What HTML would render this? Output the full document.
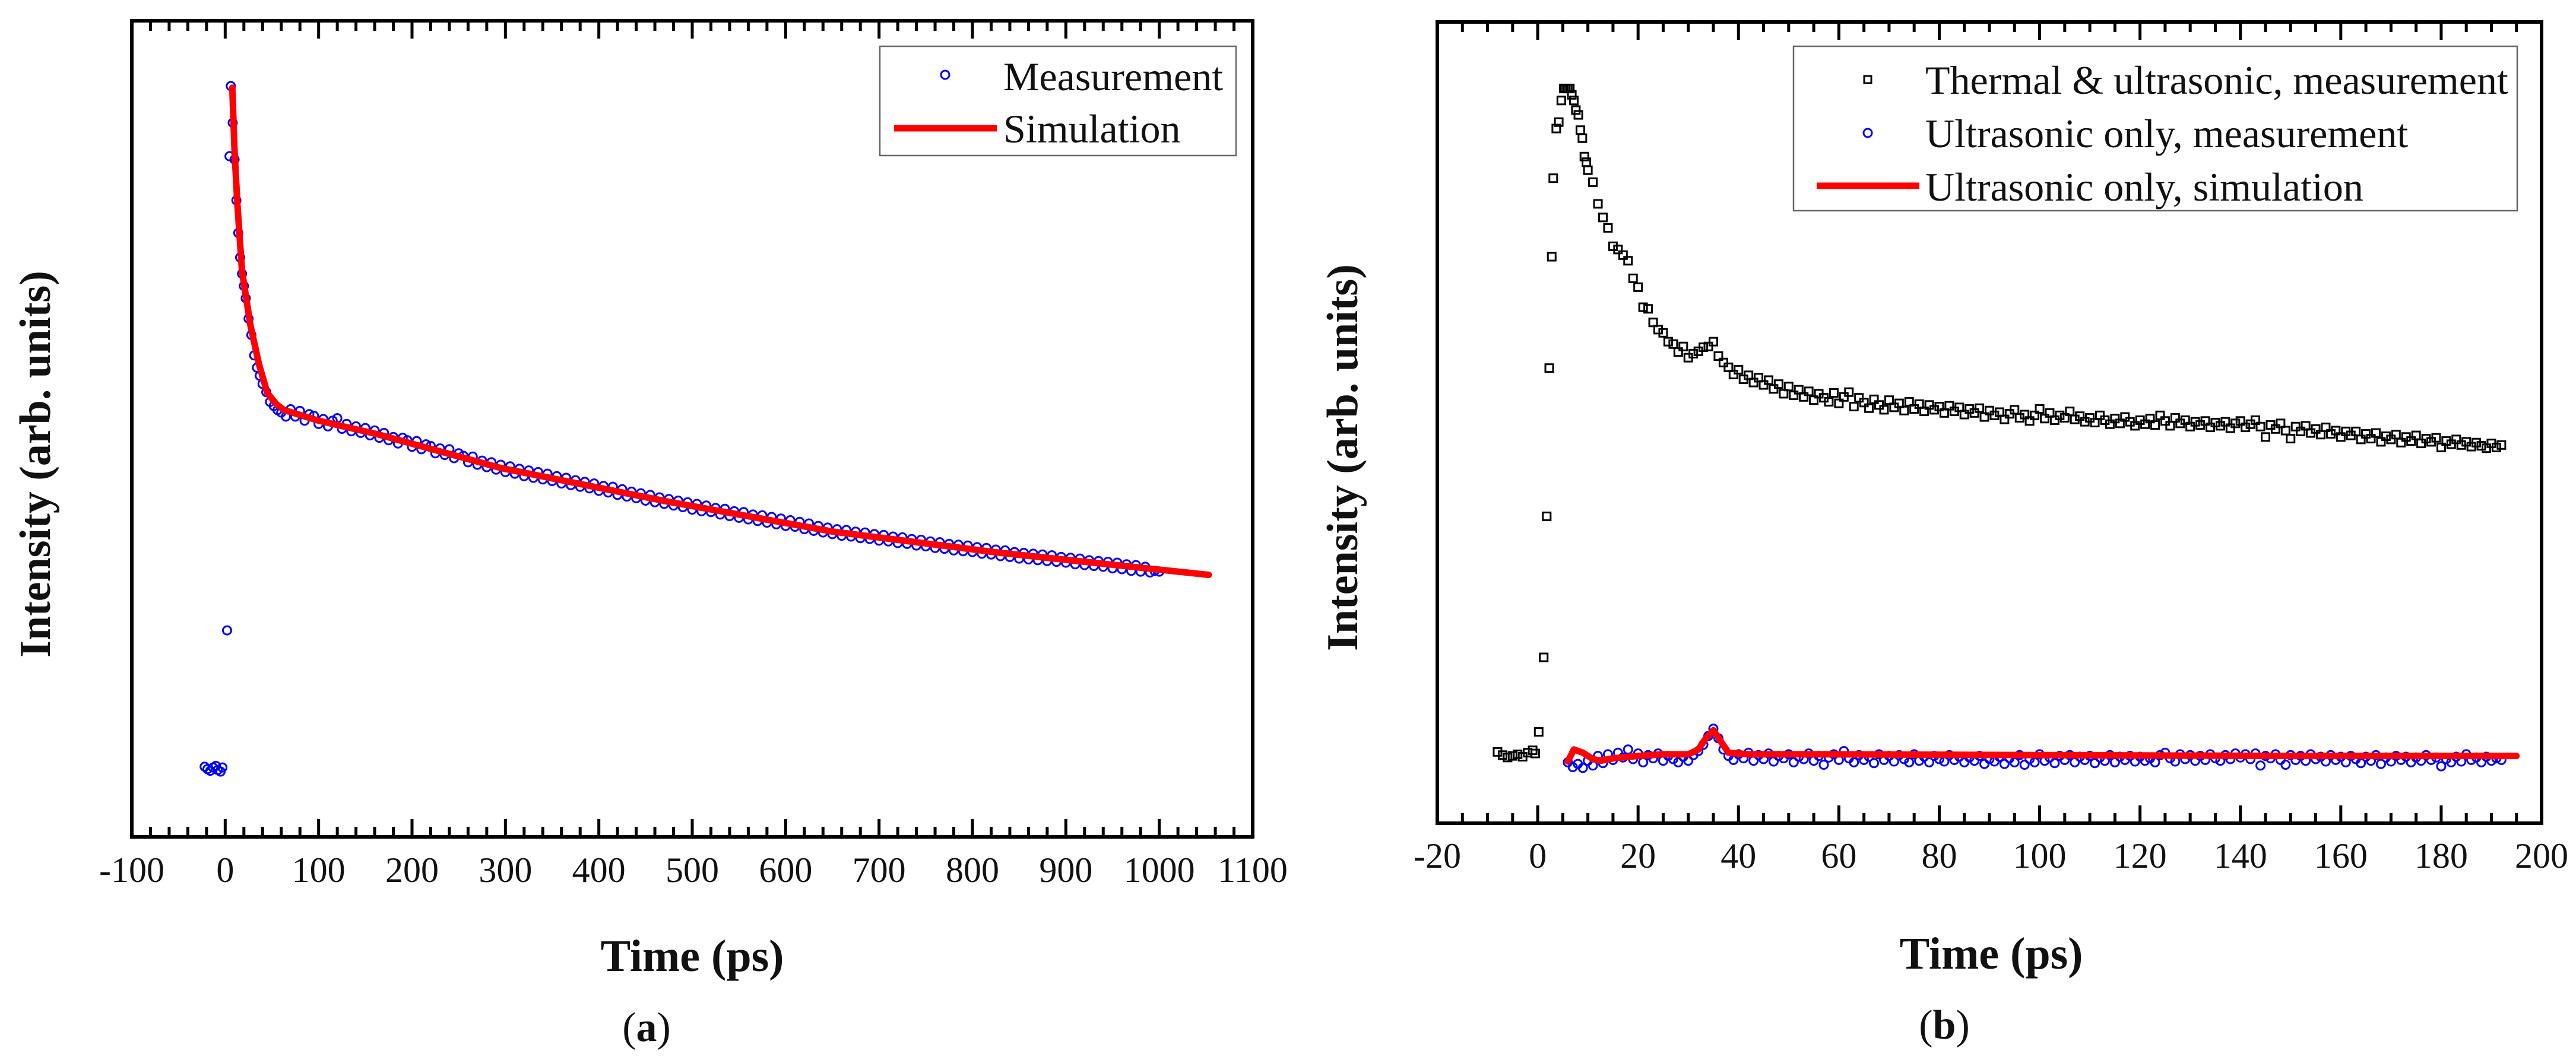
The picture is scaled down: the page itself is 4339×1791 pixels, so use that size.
<!DOCTYPE html>
<html><head><meta charset="utf-8"><style>
html,body{margin:0;padding:0;background:#fff;}
svg{display:block;font-family:"Liberation Serif",serif;}
</style></head><body>
<svg id="fig" width="4339" height="1791" viewBox="0 0 4339 1791" xmlns="http://www.w3.org/2000/svg">
<g id="pa"></g>
<g id="pb"></g>
</svg>
<script>
// ---------- Panel (a) data ----------
const aSimX = [7.6,10,13,18,27,36,45,55,63,100,161,295,473,651,830,1053];
const aSimY = [91.8,84,77.6,69.3,62.7,58,54.4,53,52.3,51.0,49.4,45.2,41.1,37.4,34.8,32.1];
const aMeasEarlyX = [-22,-19,-16,-13,-10,-8,-5,-3,2,4.6,6,8,10,12,14,16,18,20,22,25,28,31,34,37,40,44,48,52,56,60,65];
const aMeasEarlyY = [8.6,8.3,8.1,8.5,8.7,8.2,8.0,8.5,25.3,83.4,92,87.5,83,78,74,71,69,67.5,66,63.5,61.5,59,57.5,56.5,55.5,54.5,53.3,52.8,52.3,52,51.5];
const aMeasStart = 70, aMeasStep = 5;
const aMeasY = [52.4,51.5,52.2,51.0,51.8,51.6,50.6,51.2,50.3,51.0,51.3,50.0,50.6,49.7,50.3,49.5,50.1,49.2,49.8,48.9,49.5,48.6,49.0,48.2,48.9,48.6,47.8,48.5,47.5,48.1,47.9,47.0,47.6,46.8,47.5,46.4,47.0,46.7,45.9,46.6,45.6,46.1,45.3,45.9,45.0,45.6,44.7,45.4,44.5,45.1,44.2,44.9,44.0,44.7,43.8,44.5,43.6,44.2,43.3,44.0,43.1,43.7,42.9,43.5,42.7,43.3,42.4,43.0,42.2,42.9,41.9,42.6,41.7,42.3,41.5,42.1,41.2,41.9,41.0,41.6,40.8,41.4,40.6,41.2,40.4,41.0,40.1,40.8,39.9,40.6,39.8,40.3,39.5,40.2,39.3,39.9,39.1,39.8,38.9,39.5,38.7,39.4,38.5,39.2,38.3,39.0,38.1,38.8,38.0,38.6,37.7,38.4,37.5,38.1,37.3,37.9,37.1,37.7,36.9,37.6,36.8,37.4,36.6,37.3,36.5,37.1,36.3,37.0,36.2,36.8,36.0,36.7,35.9,36.5,35.7,36.4,35.6,36.2,35.4,36.1,35.3,35.9,35.1,35.8,35.0,35.7,34.9,35.5,34.7,35.4,34.6,35.2,34.4,35.1,34.3,34.9,34.1,34.8,34.0,34.7,33.9,34.6,33.8,34.5,33.7,34.3,33.6,34.2,33.4,34.1,33.3,33.9,33.2,33.8,33.1,33.7,32.9,33.6,32.8,33.4,32.6,33.3,32.5,33.1,32.4,32.6,32.5];
const aTicks = [-100,0,100,200,300,400,500,600,700,800,900,1000,1100];

// ---------- Panel (b) data ----------
const bSimX = [6,7.2,9,11,12.6,15,20,25,30,32,33.5,35,36.5,38,42,60,100,150,195];
const bSimY = [7.7,9.2,8.8,8.0,7.8,8.1,8.4,8.6,8.6,9.2,10.6,11.6,10.2,8.8,8.6,8.6,8.5,8.4,8.4];
const bThEarlyX = [-8,-7,-6,-5,-4,-3,-2,-1,-0.5,0.2,1.2,1.8,2.3,2.8,3.1,3.7,4.2,4.7,5.2,5.6,6.0,6.4,6.8,7.2,7.6,8.1,8.5,8.9,9.3,9.7];
const bThEarlyY = [8.9,8.5,8.2,8.4,8.6,8.3,8.8,9.1,8.7,11.4,20.7,38.3,56.8,70.7,80.5,86.7,87.5,90.2,91.7,91.7,91.7,91.7,90.9,90.2,89.0,88.4,86.5,85.5,83.2,82.5];
const bThStart = 10, bThStep = 1;
const bThY = [81.5,80.0,77.3,75.6,74.3,72.0,71.6,70.9,70.2,68.0,66.9,64.4,64.2,62.5,61.6,61.2,60.1,59.8,58.8,59.5,58.1,58.6,58.9,59.4,59.5,60.1,58.3,57.5,56.9,56.0,56.6,55.4,55.9,55.0,55.6,54.7,55.3,54.2,54.8,53.6,54.5,53.4,54.1,53.2,53.9,52.8,53.6,53.1,52.6,53.7,52.4,53.2,53.8,52.0,53.1,52.5,51.8,52.9,52.2,51.6,52.8,51.9,52.4,51.5,52.6,51.7,52.3,51.4,52.2,51.6,52.0,51.2,52.1,51.4,51.9,51.0,51.7,51.2,51.8,50.7,51.5,50.9,51.3,50.4,51.1,51.6,50.6,51.0,50.2,50.9,51.7,50.5,51.2,50.3,50.9,50.6,51.4,50.4,50.8,50.1,50.6,50.0,50.9,50.3,49.8,50.5,49.9,50.7,50.1,49.6,50.3,49.8,50.5,49.7,50.9,50.2,49.6,50.6,49.9,50.3,49.5,50.1,49.7,50.2,49.4,50.0,49.6,50.1,49.3,49.9,50.2,49.4,49.8,50.3,49.5,48.2,49.7,49.2,49.9,49.0,48.0,49.5,48.9,49.6,48.7,49.2,48.5,49.4,48.6,49.0,48.2,48.9,48.4,48.9,47.9,48.6,48.0,48.7,47.6,48.3,47.9,48.5,47.5,48.2,47.7,48.4,47.4,48.0,47.6,48.1,46.9,47.7,47.3,47.9,47.2,47.6,47.0,47.5,47.1,46.8,47.4,46.9,47.2];
const bUsStart = 6, bUsStep = 1;
const bUsY = [7.6,7.0,7.4,6.9,7.8,7.2,8.4,7.5,8.6,7.9,8.8,8.2,9.2,8.0,8.7,7.6,8.5,8.1,8.7,7.8,8.4,8.0,7.6,8.3,7.8,8.5,9.0,9.8,10.9,11.8,10.6,9.2,8.4,7.9,8.6,8.1,8.8,7.8,8.5,8.0,8.7,7.7,8.4,8.1,8.6,7.6,8.3,8.0,8.7,7.8,8.4,7.3,8.2,8.6,7.9,9.0,8.1,7.6,8.5,7.9,8.3,7.5,8.6,7.9,8.4,7.7,8.5,8.0,7.6,8.6,7.8,8.3,7.6,8.4,8.0,7.7,8.5,7.9,8.3,7.6,8.2,7.8,8.4,7.4,8.0,7.7,8.3,7.4,8.1,7.6,8.5,7.3,8.0,7.6,8.6,7.8,8.2,7.5,8.4,7.9,8.5,7.6,8.3,7.9,8.4,7.5,8.2,7.8,8.5,7.6,8.3,7.9,8.4,7.7,8.3,7.8,8.1,7.6,8.5,8.8,8.1,7.7,8.6,8.0,8.5,7.8,8.4,7.9,8.6,8.1,7.8,8.5,8.0,8.7,8.2,8.6,8.0,8.7,7.2,8.4,8.1,8.6,7.9,7.3,8.5,7.9,8.4,7.8,8.6,8.0,8.3,7.7,8.5,7.9,8.3,7.6,8.4,8.0,7.5,8.3,7.8,8.5,7.4,8.2,7.7,8.4,7.9,8.3,7.6,8.2,7.8,8.5,7.9,8.2,7.1,8.0,7.6,8.3,7.7,8.6,7.9,8.2,7.6,8.3,7.8,8.1,7.9];
const bTicks = [-20,0,20,40,60,80,100,120,140,160,180,200];

const NS = "http://www.w3.org/2000/svg";
function mk(parent, tag, attrs, text){
  const e = document.createElementNS(NS, tag);
  for (const k in attrs) e.setAttribute(k, attrs[k]);
  if (text !== undefined) e.textContent = text;
  parent.appendChild(e);
  return e;
}

function drawPanel(g, cfg){
  const {L,R,T,B,xmin,xmax,minorStep,majorStep} = cfg;
  const xs = v => L + (v - xmin) / (xmax - xmin) * (R - L);
  const ys = v => B - v / 100 * (B - T);
  cfg.xs = xs; cfg.ys = ys;
  const fr = mk(g, 'rect', {x:L, y:T, width:R-L, height:B-T, fill:'none', stroke:'#000', 'stroke-width':6});
  
  
  const nMin = Math.round((xmax - xmin) / minorStep);
  for (let i = 0; i <= nMin; i++){
    const v = xmin + i * minorStep;
    const major = Math.abs((v - xmin) % majorStep) < 1e-6;
    const len = major ? 30 : 17;
    const x = xs(v);
    const t1 = mk(g, 'line', {x1:x, x2:x, y1:B, y2:B-len, stroke:'#000', 'stroke-width':5});
    
    
    const t2 = mk(g, 'line', {x1:x, x2:x, y1:T, y2:T+len, stroke:'#000', 'stroke-width':5});
    
    
  }
  cfg.ticks.forEach(v => {
    const tl = mk(g, 'text', {x:xs(v), y:cfg.tickY, 'font-size':60, 'text-anchor':'middle', fill:'#111'}, String(v));
    
    
  });
  const xt = mk(g, 'text', {x:cfg.xTitleX, y:cfg.xTitleY, 'font-size':76, 'font-weight':'bold', 'text-anchor':'middle', fill:'#111'}, 'Time (ps)');
  
  
  const yt = mk(g, 'text', {x:0, y:0, 'font-size':74, 'font-weight':'bold', 'text-anchor':'middle', fill:'#111',
    transform:`translate(${cfg.yTitleX},${cfg.yTitleY}) rotate(-90)`}, 'Intensity (arb. units)');
  
  
  const pl = mk(g, 'text', {x:cfg.panelX, y:cfg.panelY, 'font-size':70, 'text-anchor':'middle', fill:'#111'}, '');
  
  
  mk(pl, 'tspan', {}, '(');
  mk(pl, 'tspan', {'font-weight':'bold'}, cfg.label);
  mk(pl, 'tspan', {}, ')');
}

function circles(g, xs, ys, X, Y, name){
  const grp = mk(g, 'g', {fill:'none', stroke:'#0000ff', 'stroke-width':3});
  
  
  for (let i = 0; i < X.length; i++){
    const c = mk(grp, 'circle', {cx:xs(X[i]), cy:ys(Y[i]), r:7});
    
    
  }
}
function squares(g, xs, ys, X, Y, name){
  const grp = mk(g, 'g', {fill:'none', stroke:'#000', 'stroke-width':3});
  
  
  for (let i = 0; i < X.length; i++){
    const s = mk(grp, 'rect', {x:xs(X[i])-6.5, y:ys(Y[i])-6.5, width:13, height:13});
    
    
  }
}
function line(g, xs, ys, X, Y, name){
  const d = X.map((x,i) => (i ? 'L' : 'M') + xs(x).toFixed(1) + ',' + ys(Y[i]).toFixed(1)).join(' ');
  const p = mk(g, 'path', {d, fill:'none', stroke:'#ff0000', 'stroke-width':11, 'stroke-linejoin':'round', 'stroke-linecap':'round'});
  
  
}
function seqX(start, step, n){ const r = []; for (let i = 0; i < n; i++) r.push(start + i * step); return r; }

// ----- Panel a -----
const ga = document.getElementById('pa');
const A = {L:222,R:2110,T:35,B:1410,xmin:-100,xmax:1100,minorStep:20,majorStep:100,ticks:aTicks,
  tickY:1486,xTitleX:1166,xTitleY:1636,yTitleX:84,yTitleY:782,panelX:1089,panelY:1754,label:'a'};
drawPanel(ga, A);
circles(ga, A.xs, A.ys, aMeasEarlyX, aMeasEarlyY, 'measurement-series-early');
circles(ga, A.xs, A.ys, seqX(aMeasStart, aMeasStep, aMeasY.length), aMeasY, 'measurement-series');
line(ga, A.xs, A.ys, aSimX, aSimY, 'simulation-line');
const la = mk(ga, 'g', {});  
mk(la, 'rect', {x:1482, y:78, width:600, height:184, fill:'#fff', stroke:'#666', 'stroke-width':2.5});
const la1 = mk(la, 'circle', {cx:1592, cy:126, r:7, fill:'none', stroke:'#0000ff', 'stroke-width':3});
 
const lat1 = mk(la, 'text', {x:1690, y:152, 'font-size':68, fill:'#111'}, 'Measurement');
 
const la2 = mk(la, 'line', {x1:1506, x2:1679, y1:216, y2:216, stroke:'#ff0000', 'stroke-width':11});
 
const lat2 = mk(la, 'text', {x:1690, y:240, 'font-size':68, fill:'#111'}, 'Simulation');
 

// ----- Panel b -----
const gb = document.getElementById('pb');
const Bc = {L:2421,R:4281,T:37,B:1387,xmin:-20,xmax:200,minorStep:5,majorStep:20,ticks:bTicks,
  tickY:1462,xTitleX:3354,xTitleY:1632,yTitleX:2286,yTitleY:771,panelX:3275,panelY:1750,label:'b'};
drawPanel(gb, Bc);
squares(gb, Bc.xs, Bc.ys, bThEarlyX, bThEarlyY, 'thermal-measurement-early');
squares(gb, Bc.xs, Bc.ys, seqX(bThStart, bThStep, bThY.length), bThY, 'thermal-measurement-series');
circles(gb, Bc.xs, Bc.ys, seqX(bUsStart, bUsStep, bUsY.length), bUsY, 'ultrasonic-measurement-series');
line(gb, Bc.xs, Bc.ys, bSimX, bSimY, 'ultrasonic-simulation-line');
const lb = mk(gb, 'g', {});  
mk(lb, 'rect', {x:3021, y:78, width:1219, height:277, fill:'#fff', stroke:'#666', 'stroke-width':2.5});
const lb1 = mk(lb, 'rect', {x:3140, y:128, width:12, height:12, fill:'none', stroke:'#000', 'stroke-width':3});
 
const lbt1 = mk(lb, 'text', {x:3243, y:158, 'font-size':68, fill:'#111'}, 'Thermal & ultrasonic, measurement');
 
const lb2 = mk(lb, 'circle', {cx:3146, cy:224, r:7, fill:'none', stroke:'#0000ff', 'stroke-width':3});
 
const lbt2 = mk(lb, 'text', {x:3243, y:248, 'font-size':68, fill:'#111'}, 'Ultrasonic only, measurement');
 
const lb3 = mk(lb, 'line', {x1:3060, x2:3233, y1:313, y2:313, stroke:'#ff0000', 'stroke-width':11});
 
const lbt3 = mk(lb, 'text', {x:3243, y:338, 'font-size':68, fill:'#111'}, 'Ultrasonic only, simulation');
 
</script>
</body></html>
